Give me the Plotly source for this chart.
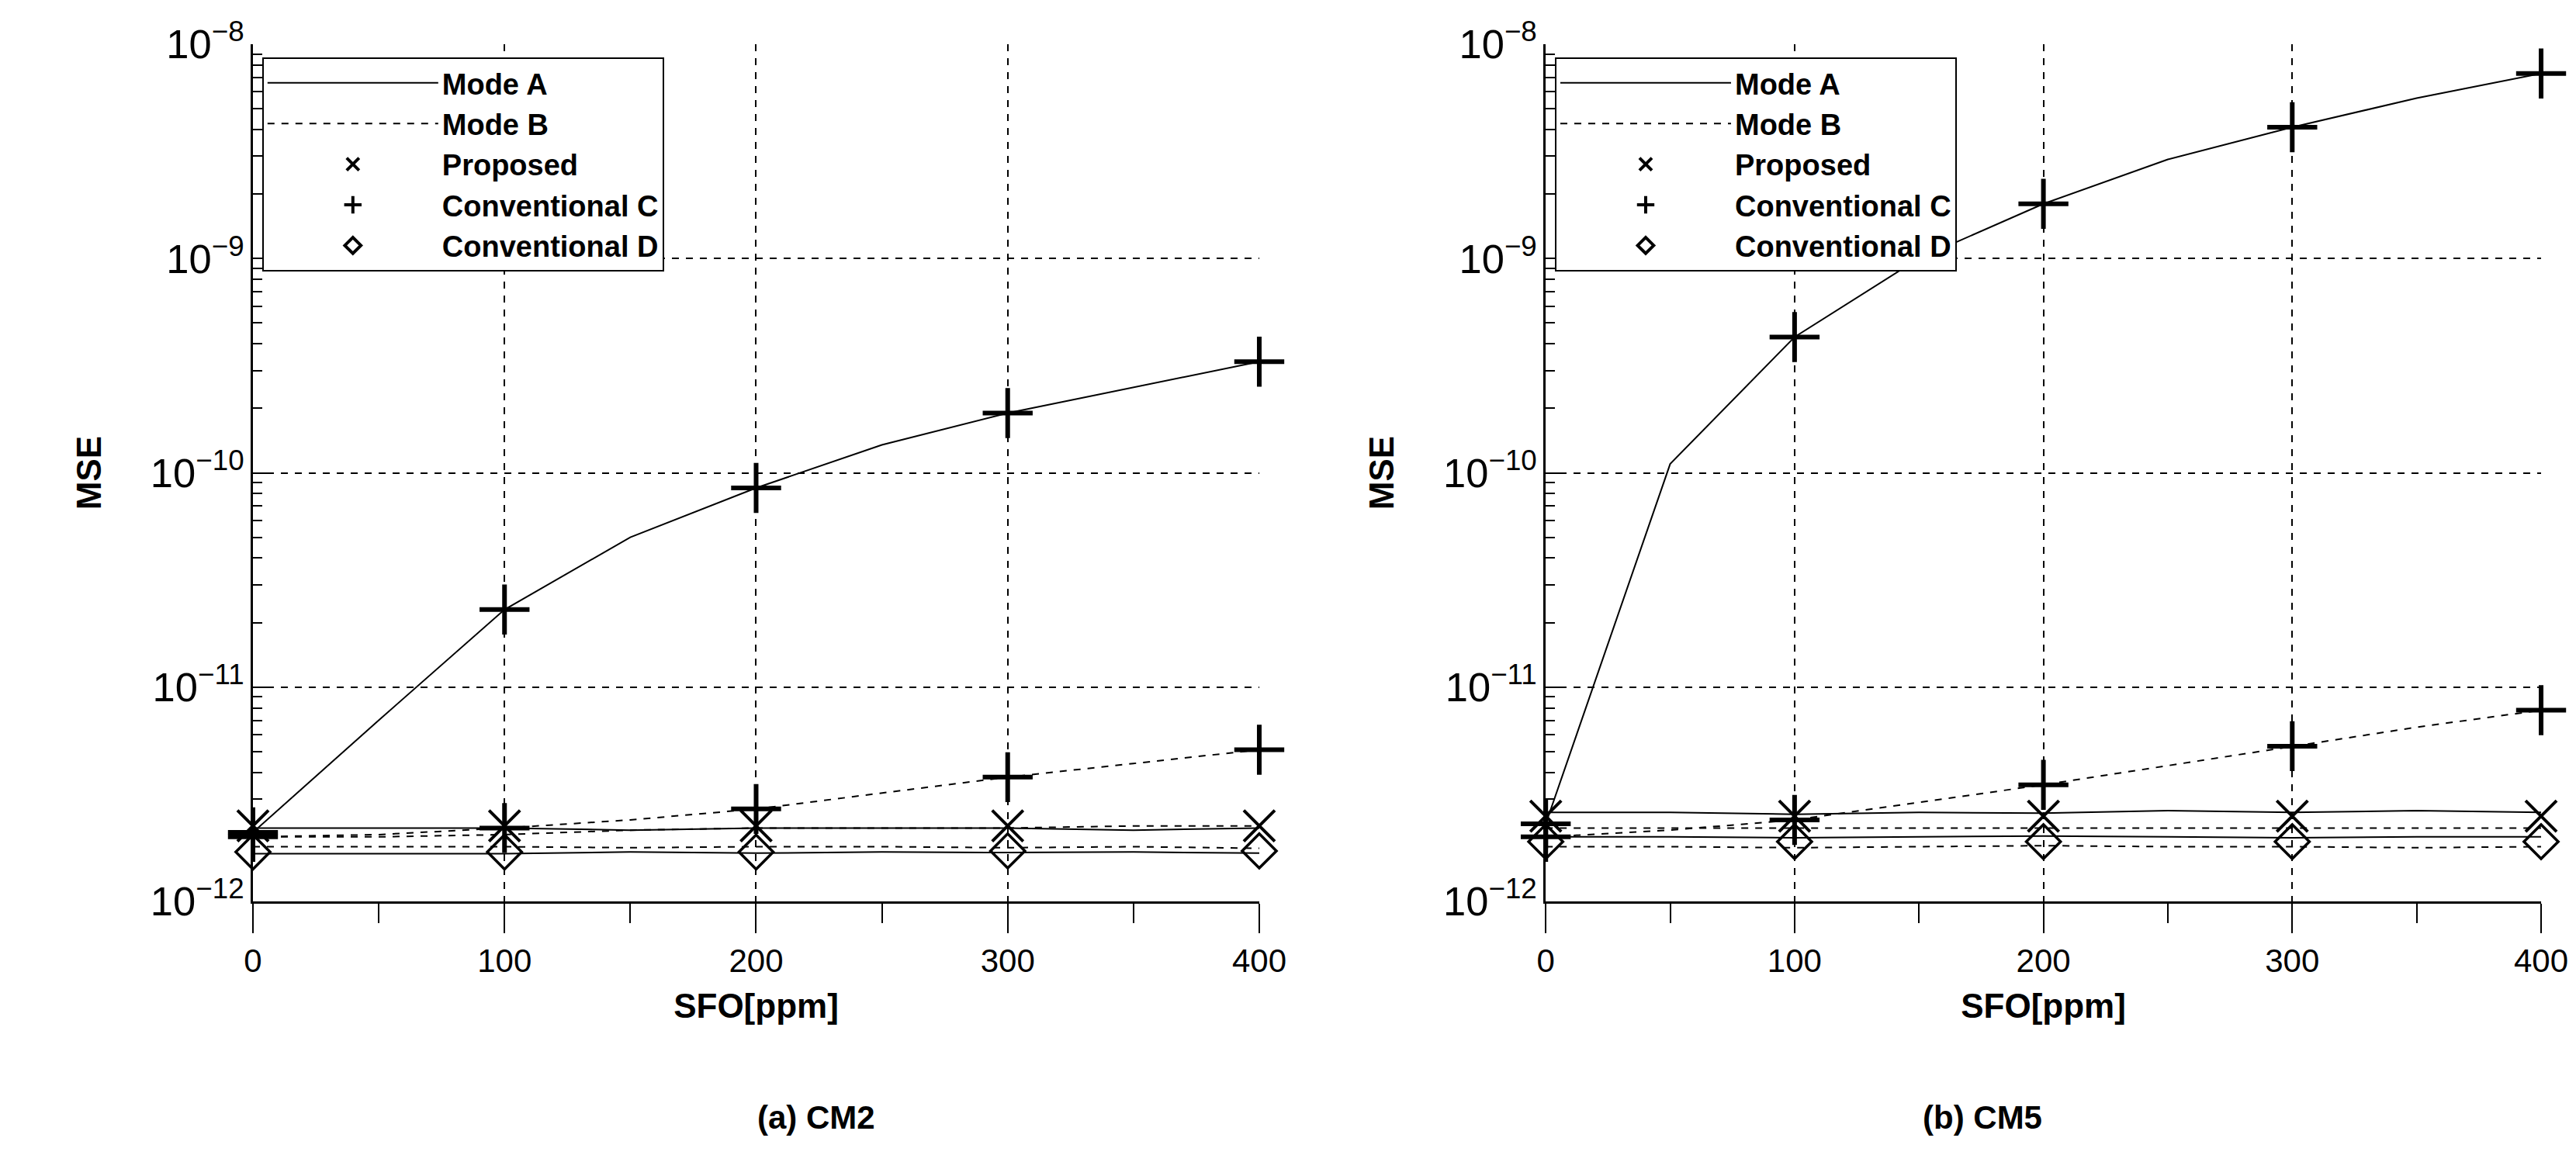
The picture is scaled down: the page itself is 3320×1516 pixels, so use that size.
import plotly.graph_objects as go
from plotly.subplots import make_subplots

sfo_fine = [0, 50, 100, 150, 200, 250, 300, 350, 400]
sfo_pts = [0, 100, 200, 300, 400]

# Panel (a) CM2
a_convC_A = [2.1e-12, 7.0e-12, 2.3e-11, 5.0e-11, 8.5e-11, 1.35e-10, 1.9e-10, 2.5e-10, 3.3e-10]
a_convC_B = [2.0e-12, 2.05e-12, 2.2e-12, 2.4e-12, 2.7e-12, 3.2e-12, 3.8e-12, 4.4e-12, 5.1e-12]
a_prop_A = [2.2e-12, 2.2e-12, 2.2e-12, 2.15e-12, 2.2e-12, 2.2e-12, 2.2e-12, 2.15e-12, 2.2e-12]
a_prop_B = [2.0e-12, 2.0e-12, 2.05e-12, 2.15e-12, 2.2e-12, 2.2e-12, 2.2e-12, 2.25e-12, 2.25e-12]
a_convD_A = [1.67e-12, 1.67e-12, 1.67e-12, 1.7e-12, 1.68e-12, 1.7e-12, 1.69e-12, 1.7e-12, 1.68e-12]
a_convD_B = [1.8e-12, 1.8e-12, 1.8e-12, 1.78e-12, 1.8e-12, 1.8e-12, 1.78e-12, 1.8e-12, 1.77e-12]
a_prop_mk = [2.25e-12, 2.25e-12, 2.25e-12, 2.25e-12, 2.25e-12]
a_convD_mk = [1.7e-12, 1.7e-12, 1.7e-12, 1.72e-12, 1.72e-12]
a_convC_A_mk = [2.1e-12, 2.3e-11, 8.5e-11, 1.9e-10, 3.3e-10]
a_convC_B_mk = [2.0e-12, 2.2e-12, 2.7e-12, 3.8e-12, 5.1e-12]

# Panel (b) CM5
b_convC_A = [2.3e-12, 1.1e-10, 4.3e-10, 1.0e-9, 1.8e-9, 2.9e-9, 4.1e-9, 5.6e-9, 7.3e-9]
b_convC_B = [2.0e-12, 2.15e-12, 2.4e-12, 2.9e-12, 3.5e-12, 4.3e-12, 5.3e-12, 6.5e-12, 7.8e-12]
b_prop_A = [2.6e-12, 2.6e-12, 2.55e-12, 2.6e-12, 2.58e-12, 2.65e-12, 2.6e-12, 2.65e-12, 2.6e-12]
b_prop_B = [2.2e-12, 2.2e-12, 2.2e-12, 2.2e-12, 2.2e-12, 2.2e-12, 2.2e-12, 2.2e-12, 2.2e-12]
b_convD_A = [2.0e-12, 2.0e-12, 1.98e-12, 2.0e-12, 2.02e-12, 2.0e-12, 1.98e-12, 2.0e-12, 2.0e-12]
b_convD_B = [1.8e-12, 1.8e-12, 1.78e-12, 1.8e-12, 1.82e-12, 1.8e-12, 1.8e-12, 1.78e-12, 1.8e-12]
b_prop_mk = [2.5e-12, 2.5e-12, 2.5e-12, 2.5e-12, 2.5e-12]
b_convD_mk = [1.9e-12, 1.9e-12, 1.9e-12, 1.9e-12, 1.9e-12]
b_convC_A_mk = [2.3e-12, 4.3e-10, 1.8e-9, 4.1e-9, 7.3e-9]
b_convC_B_mk = [2.0e-12, 2.4e-12, 3.5e-12, 5.3e-12, 7.8e-12]

subtitles = ["(a) CM2", "(b) CM5"]
x_ticks = [0, 100, 200, 300, 400]

FONT = "Liberation Sans"
fig = make_subplots(rows=1, cols=2, horizontal_spacing=0.12)

panels = [
    (a_convC_A, a_convC_B, a_prop_A, a_prop_B, a_convD_A, a_convD_B, a_prop_mk, a_convD_mk, a_convC_A_mk, a_convC_B_mk),
    (b_convC_A, b_convC_B, b_prop_A, b_prop_B, b_convD_A, b_convD_B, b_prop_mk, b_convD_mk, b_convC_A_mk, b_convC_B_mk),
]

for i, p in enumerate(panels):
    col = i + 1
    cA, cB, pA, pB, dA, dB, pm, dm, cAm, cBm = p
    for ys, dash in [(cA, "solid"), (cB, "dash"), (pA, "solid"), (pB, "dash"), (dA, "solid"), (dB, "dash")]:
        fig.add_trace(go.Scatter(x=sfo_fine, y=ys, mode="lines", showlegend=False, cliponaxis=False,
                                 line=dict(color="black", width=2, dash=dash)), row=1, col=col)
    fig.add_trace(go.Scatter(x=sfo_pts, y=dm, mode="markers", showlegend=False, cliponaxis=False,
                             marker=dict(symbol="diamond-open", color="black", size=34, line=dict(width=3.5))), row=1, col=col)
    fig.add_trace(go.Scatter(x=sfo_pts, y=pm, mode="markers", showlegend=False, cliponaxis=False,
                             marker=dict(symbol="x-thin", size=40, line=dict(color="black", width=4))), row=1, col=col)
    for ys in (cAm, cBm):
        fig.add_trace(go.Scatter(x=sfo_pts, y=ys, mode="markers", showlegend=False, cliponaxis=False,
                                 marker=dict(symbol="cross-thin", size=46, line=dict(color="black", width=6))), row=1, col=col)

leg_items = [("Mode A", "lines", dict(dash="solid")), ("Mode B", "lines", dict(dash="dash")),
             ("Proposed", "markers", "x-thin"), ("Conventional C", "markers", "cross-thin"),
             ("Conventional D", "markers", "diamond-open")]
for i, lg in enumerate(["legend", "legend2"]):
    for name, mode, st in leg_items:
        if mode == "lines":
            tr = go.Scatter(x=[None], y=[None], mode="lines", name="<b>" + name + "</b>", legend=lg,
                            line=dict(color="black", width=2, **st))
        else:
            tr = go.Scatter(x=[None], y=[None], mode="markers", name="<b>" + name + "</b>", legend=lg,
                            marker=dict(symbol=st, size=30, color="black", line=dict(color="black", width=4)))
        fig.add_trace(tr, row=1, col=i + 1)

axfont = dict(family=FONT, size=42, color="black")
for i in range(2):
    fig.update_xaxes(range=[0, 400], tickvals=x_ticks, ticks="outside", ticklen=38, tickwidth=2,
                     tickcolor="black", showline=True, linecolor="black", linewidth=3,
                     showgrid=True, gridcolor="black", griddash="dash", gridwidth=1.5,
                     minor=dict(ticks="outside", ticklen=25, tickwidth=2, tickcolor="black", dtick=50, showgrid=False),
                     tickfont=axfont, zeroline=False,
                     title=dict(text="<b>SFO[ppm]</b>", font=dict(family=FONT, size=44, color="black"), standoff=20),
                     row=1, col=i + 1)
    fig.update_yaxes(type="log", range=[-12, -8], dtick=1, exponentformat="power",
                     ticks="inside", ticklen=20, tickwidth=2, tickcolor="black",
                     showline=True, linecolor="black", linewidth=3,
                     showgrid=True, gridcolor="black", griddash="dash", gridwidth=1.5,
                     minor=dict(ticks="inside", ticklen=12, tickwidth=2, tickcolor="black", showgrid=False),
                     tickfont=axfont, zeroline=False,
                     title=dict(text="<b>MSE</b>", font=dict(family=FONT, size=44, color="black"), standoff=50),
                     row=1, col=i + 1)

legfont = dict(family=FONT, size=38, color="black")
dom_a = [0.0, 0.4398]
dom_b = [0.565, 1.0]
anns = []
for i, d in enumerate([dom_a, dom_b]):
    anns.append(dict(text="<b>" + subtitles[i] + "</b>", x=(d[0] + d[1]) / 2, y=-0.275, xref="paper", yref="paper",
                     showarrow=False, font=dict(family=FONT, size=42, color="black")))

fig.update_layout(
    width=3320, height=1516, plot_bgcolor="white", paper_bgcolor="white",
    margin=dict(l=318, r=53, t=38, b=362),
    xaxis=dict(domain=dom_a), xaxis2=dict(domain=dom_b),
    legend=dict(x=0.004, y=0.985, xanchor="left", yanchor="top", font=legfont, bgcolor="white",
                bordercolor="black", borderwidth=2, itemwidth=220, tracegroupgap=8),
    legend2=dict(x=0.569, y=0.985, xanchor="left", yanchor="top", font=legfont, bgcolor="white",
                 bordercolor="black", borderwidth=2, itemwidth=220, tracegroupgap=8),
    annotations=anns,
)
fig.write_html("out.html")
